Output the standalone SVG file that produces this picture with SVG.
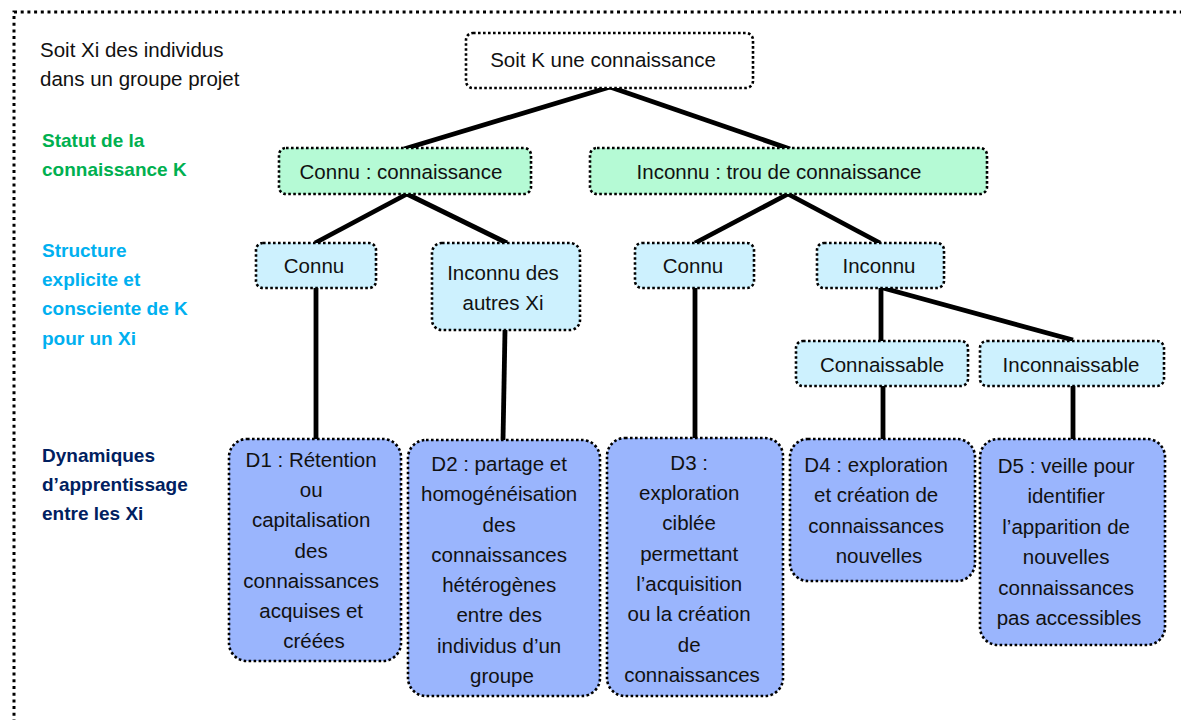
<svg xmlns="http://www.w3.org/2000/svg" width="1181" height="720" viewBox="0 0 1181 720">
<style>
text{font-family:"Liberation Sans",Arial,sans-serif;font-size:20.5px;fill:#111}
.c{text-anchor:middle}
.lbl{font-weight:bold;font-size:19px}
.g{fill:#00b050}.b{fill:#00b0f0}.n{fill:#002060}
.box{stroke:#000;stroke-width:2.6;stroke-dasharray:2.6 2.4}
.w{fill:#fff}.gr{fill:#b5fad5}.cy{fill:#cdf1fe}.bl{fill:#9ab5fd}
#connectors path{stroke:#000;stroke-width:4.8;fill:none}
</style>
<rect width="1181" height="720" fill="#fff"/>
<rect x="14" y="12" width="1220" height="760" fill="none" stroke="#000" stroke-width="3" stroke-dasharray="3 3.7"/>
<g id="legend">
<text x="40" y="57">Soit Xi des individus</text>
<text x="40" y="86">dans un groupe projet</text>
<text class="lbl g" x="42" y="147">Statut de la</text>
<text class="lbl g" x="42" y="176">connaissance K</text>
<text class="lbl b" x="42" y="257">Structure</text>
<text class="lbl b" x="42" y="286">explicite et</text>
<text class="lbl b" x="42" y="315">consciente de K</text>
<text class="lbl b" x="42" y="345">pour un Xi</text>
<text class="lbl n" x="42" y="462">Dynamiques</text>
<text class="lbl n" x="42" y="491">d’apprentissage</text>
<text class="lbl n" x="42" y="520">entre les Xi</text>
</g>
<g id="connectors">
<path d="M610 87 L404 149"/>
<path d="M610 87 L790 149"/>
<path d="M407 194 L315 243"/>
<path d="M407 194 L507 243"/>
<path d="M788 194 L695 243"/>
<path d="M788 194 L880 243"/>
<path d="M316 288 L316 439"/>
<path d="M505 330 L503 440"/>
<path d="M695 288 L695 438"/>
<path d="M881 288 L881 341"/>
<path d="M883 288 L1073 340"/>
<path d="M883 386 L883 439"/>
<path d="M1073 386 L1073 439"/>
</g>
<g id="root">
<rect class="box w" x="466" y="33" width="287" height="55" rx="7"/>
<text class="c" x="603" y="67">Soit K une connaissance</text>
</g>
<g id="connu-connaissance">
<rect class="box gr" x="279" y="148" width="252" height="46" rx="7"/>
<text class="c" x="401" y="179">Connu : connaissance</text>
</g>
<g id="inconnu-trou">
<rect class="box gr" x="590" y="148" width="397" height="46" rx="7"/>
<text class="c" x="779" y="179">Inconnu : trou de connaissance</text>
</g>
<g id="connu-1">
<rect class="box cy" x="256" y="243" width="120" height="45" rx="7"/>
<text class="c" x="314" y="273">Connu</text>
</g>
<g id="inconnu-autres">
<rect class="box cy" x="432" y="243" width="148" height="87" rx="10"/>
<text class="c" x="503" y="280">Inconnu des</text>
<text class="c" x="503" y="310">autres Xi</text>
</g>
<g id="connu-2">
<rect class="box cy" x="635" y="243" width="119" height="45" rx="7"/>
<text class="c" x="693" y="273">Connu</text>
</g>
<g id="inconnu-2">
<rect class="box cy" x="817" y="243" width="127" height="45" rx="7"/>
<text class="c" x="879" y="273">Inconnu</text>
</g>
<g id="connaissable">
<rect class="box cy" x="796" y="341" width="172" height="45" rx="7"/>
<text class="c" x="882" y="372">Connaissable</text>
</g>
<g id="inconnaissable">
<rect class="box cy" x="980" y="341" width="184" height="45" rx="7"/>
<text class="c" x="1071" y="372">Inconnaissable</text>
</g>
<g id="d1">
<rect class="box bl" x="229" y="439" width="172" height="222" rx="18"/>
<text class="c" x="314">
<tspan x="314" y="467">D1 : Rétention</tspan>
<tspan x="314" y="497">ou</tspan>
<tspan x="314" y="527">capitalisation</tspan>
<tspan x="314" y="558">des</tspan>
<tspan x="314" y="588">connaissances</tspan>
<tspan x="314" y="618">acquises et</tspan>
<tspan x="314" y="648">créées</tspan>
</text>
</g>
<g id="d2">
<rect class="box bl" x="408" y="440" width="192" height="256" rx="18"/>
<text class="c" x="502">
<tspan x="502" y="471">D2 : partage et</tspan>
<tspan x="502" y="501">homogénéisation</tspan>
<tspan x="502" y="532">des</tspan>
<tspan x="502" y="562">connaissances</tspan>
<tspan x="502" y="592">hétérogènes</tspan>
<tspan x="502" y="622">entre des</tspan>
<tspan x="502" y="653">individus d’un</tspan>
<tspan x="502" y="683">groupe</tspan>
</text>
</g>
<g id="d3">
<rect class="box bl" x="607" y="438" width="176" height="258" rx="18"/>
<text class="c" x="692">
<tspan x="692" y="470">D3 :</tspan>
<tspan x="692" y="500">exploration</tspan>
<tspan x="692" y="530">ciblée</tspan>
<tspan x="692" y="561">permettant</tspan>
<tspan x="692" y="591">l’acquisition</tspan>
<tspan x="692" y="621">ou la création</tspan>
<tspan x="692" y="652">de</tspan>
<tspan x="692" y="682">connaissances</tspan>
</text>
</g>
<g id="d4">
<rect class="box bl" x="790" y="439" width="185" height="142" rx="18"/>
<text class="c" x="879">
<tspan x="879" y="472">D4 : exploration</tspan>
<tspan x="879" y="502">et création de</tspan>
<tspan x="879" y="533">connaissances</tspan>
<tspan x="879" y="563">nouvelles</tspan>
</text>
</g>
<g id="d5">
<rect class="box bl" x="980" y="439" width="185" height="206" rx="18"/>
<text class="c" x="1069">
<tspan x="1069" y="473">D5 : veille pour</tspan>
<tspan x="1069" y="503">identifier</tspan>
<tspan x="1069" y="534">l’apparition de</tspan>
<tspan x="1069" y="564">nouvelles</tspan>
<tspan x="1069" y="595">connaissances</tspan>
<tspan x="1069" y="625">pas accessibles</tspan>
</text>
</g>
</svg>
